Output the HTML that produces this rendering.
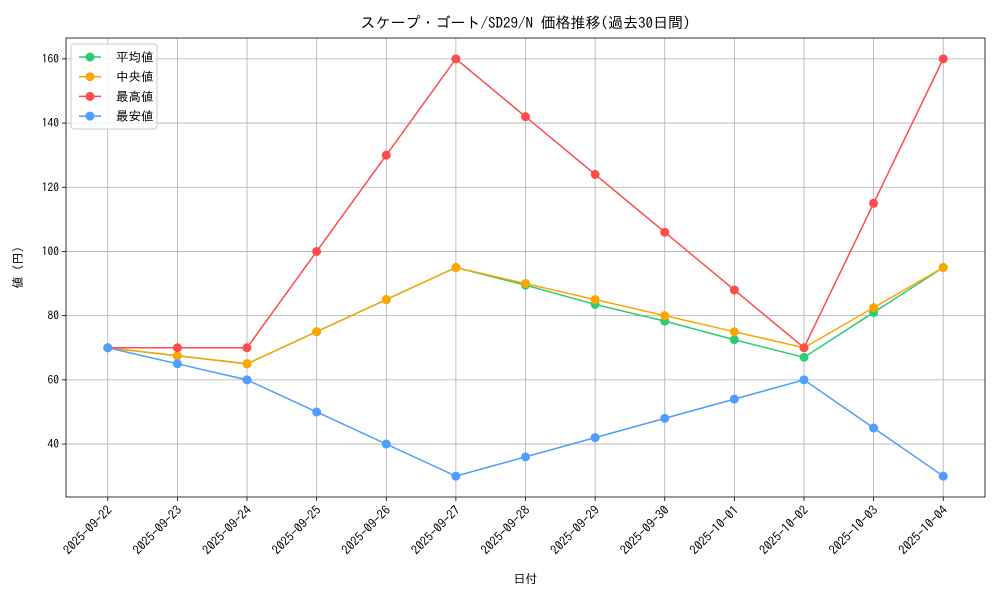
<!DOCTYPE html>
<html><head><meta charset="utf-8"><style>
body{margin:0;background:#fff}
svg text{font-family:"IPAGothic","Liberation Mono","Noto Sans CJK JP",monospace;fill:#000}
</style></head><body>
<svg id="chart" width="1000" height="600" xmlns="http://www.w3.org/2000/svg"></svg>
<script>
const categories=["2025-09-22","2025-09-23","2025-09-24","2025-09-25","2025-09-26","2025-09-27","2025-09-28","2025-09-29","2025-09-30","2025-10-01","2025-10-02","2025-10-03","2025-10-04"];
const avgValues=[70,67.5,65,75,85,95,89.5,83.5,78.3,72.5,67,81,95];
const medianValues=[70,67.5,65,75,85,95,90,85,80,75,70,82.5,95];
const maxValues=[70,70,70,100,130,160,142,124,106,88,70,115,160];
const minValues=[70,65,60,50,40,30,36,42,48,54,60,45,30];
const yTicks=[40,60,80,100,120,140,160];
const seriesNames=["平均値","中央値","最高値","最安値"];
const seriesColors=["#2ecc71","#ffa500","#ff4d4d","#4d9eff"];

const svg=document.getElementById('chart');
const NS="http://www.w3.org/2000/svg";
const L=66,R=985,T=38,B=497;
const allV=[...avgValues,...medianValues,...maxValues,...minValues];
const vmin=Math.min(...allV),vmax=Math.max(...allV),pad=(vmax-vmin)*0.05;
const y0=vmin-pad,y1=vmax+pad;
const n=categories.length,xp=(n-1)*0.05;
function xs(i){return L+(i+xp)/(n-1+2*xp)*(R-L);}
function ys(v){return B-(v-y0)/(y1-y0)*(B-T);}
function el(tag,attrs,parent){const e=document.createElementNS(NS,tag);for(const k in attrs)e.setAttribute(k,attrs[k]);(parent||svg).appendChild(e);return e;}

categories.forEach((c,i)=>{
  const g=el('line',{x1:xs(i),x2:xs(i),y1:T,y2:B,stroke:'#b0b0b0','stroke-width':0.8});
  
  
  const tk=el('line',{x1:xs(i),x2:xs(i),y1:B,y2:B+4,stroke:'#000','stroke-width':0.8});
  
  
  const t=el('text',{x:xs(i)+5,y:B+14,'font-size':12.5,'text-anchor':'end',transform:`rotate(-45 ${xs(i)+5} ${B+14})`});
  t.textContent=c;
  
  
});
yTicks.forEach(v=>{
  const g=el('line',{x1:L,x2:R,y1:ys(v),y2:ys(v),stroke:'#b0b0b0','stroke-width':0.8});
  
  
  const tk=el('line',{x1:L-4,x2:L,y1:ys(v),y2:ys(v),stroke:'#000','stroke-width':0.8});
  
  
  const t=el('text',{x:L-7,y:ys(v)+4,'font-size':11.5,'text-anchor':'end'});
  t.textContent=v;
  
  
});
const frame=el('rect',{x:L,y:T,width:R-L,height:B-T,fill:'none',stroke:'#000','stroke-width':0.8});



const series=[avgValues,medianValues,maxValues,minValues];
const snames=['series-average','series-median','series-max','series-min'];
series.forEach((vals,s)=>{
  const p=el('polyline',{points:vals.map((v,i)=>xs(i)+','+ys(v)).join(' '),fill:'none',stroke:seriesColors[s],'stroke-width':1.5});
  
  
  vals.forEach((v,i)=>{
    const c=el('circle',{cx:xs(i),cy:ys(v),r:4.5,fill:seriesColors[s]});
    
    
  });
});

const lg=el('rect',{x:71,y:44,width:86,height:85,fill:'#fff','fill-opacity':0.8,stroke:'#ccc',rx:3});


seriesNames.forEach((nm,s)=>{
  const y=57+s*19.7;
  const ln=el('line',{x1:79,x2:101,y1:y,y2:y,stroke:seriesColors[s],'stroke-width':1.5});
  
  
  const c=el('circle',{cx:90,cy:y,r:4.5,fill:seriesColors[s]});
  
  
  const t=el('text',{x:116,y:y+4.5,'font-size':12.5});
  t.textContent=nm;
  
  
});

const title=el('text',{x:(L+R)/2,y:28,'font-size':15,'text-anchor':'middle'});
title.textContent='スケープ・ゴート/SD29/N 価格推移(過去30日間)';


const xl=el('text',{x:(L+R)/2,y:583,'font-size':12,'text-anchor':'middle'});
xl.textContent='日付';


const yl=el('text',{x:22,y:(T+B)/2,'font-size':12,'text-anchor':'middle',transform:`rotate(-90 22 ${(T+B)/2})`});
yl.textContent='値 (円)';


</script>
</body></html>
